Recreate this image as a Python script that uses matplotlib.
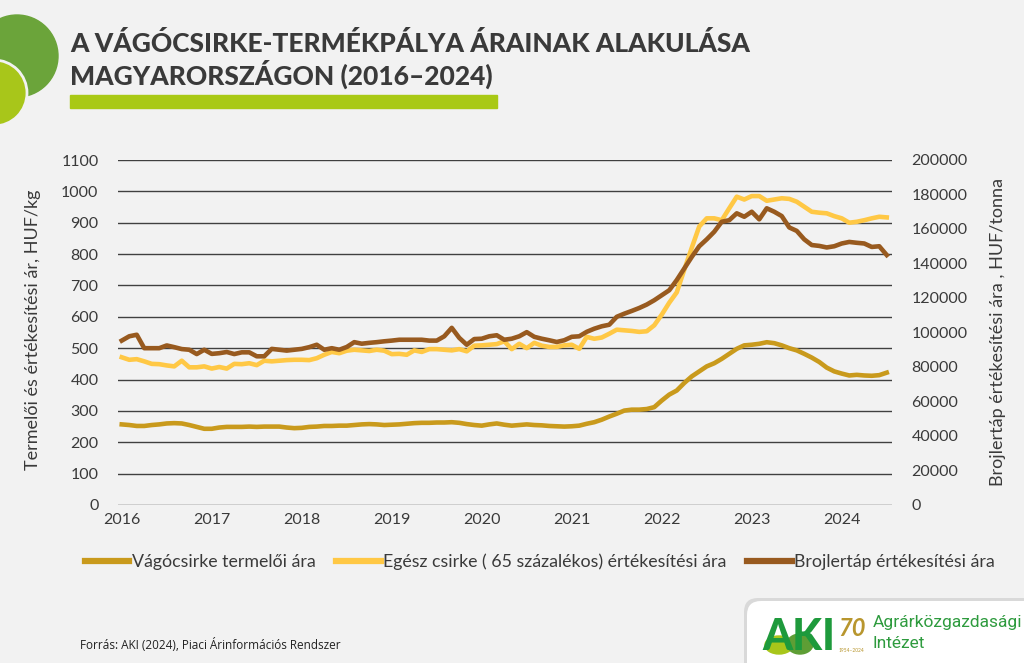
import numpy as np
import matplotlib.pyplot as plt
from matplotlib.patches import Circle, Rectangle, FancyBboxPatch, Ellipse
from matplotlib.lines import Line2D

plt.rcParams['font.family'] = ['Lato', 'DejaVu Sans']

# ---- data: monthly, Jan 2016 .. Jul 2024 ----
years = ['2016', '2017', '2018', '2019', '2020', '2021', '2022', '2023', '2024']

# Vágócsirke termelői ára, HUF/kg
termeloi = [257, 255, 252, 252, 255, 257, 260, 261, 260, 255,
            249, 243, 243, 247, 249, 249, 249, 250, 249, 250,
            250, 250, 247, 245, 246, 249, 250, 252, 252, 253,
            253, 255, 257, 258, 257, 255, 256, 257, 259, 261,
            262, 262, 263, 263, 264, 262, 258, 255, 253, 257,
            260, 256, 253, 255, 257, 255, 254, 252, 251, 250,
            251, 253, 259, 264, 272, 282, 291, 301, 304, 304,
            306, 312, 333, 352, 365, 389, 410, 426, 442, 452,
            466, 482, 498, 509, 511, 514, 519, 516, 509, 500,
            493, 482, 470, 456, 438, 426, 419, 413, 415, 413,
            412, 414, 422]

# Egész csirke (65 százalékos) értékesítési ára, HUF/kg
egesz = [471, 463, 465, 458, 450, 449, 445, 442, 460, 439,
         439, 442, 435, 440, 435, 450, 449, 452, 446, 460,
         458, 460, 462, 463, 463, 462, 468, 479, 488, 484,
         492, 495, 493, 491, 495, 492, 481, 482, 479, 493,
         488, 497, 497, 495, 493, 497, 490, 508, 509, 511,
         513, 522, 497, 514, 500, 517, 508, 504, 504, 509,
         511, 498, 536, 530, 534, 546, 559, 557, 555, 552,
         554, 573, 607, 645, 678, 750, 820, 888, 914, 914,
         908, 946, 983, 974, 985, 985, 970, 974, 978, 976,
         967, 951, 935, 932, 930, 921, 914, 900, 903, 908,
         914, 919, 917]

# Brojlertáp értékesítési ára, HUF/tonna
brojlertap = [95300, 97800, 98700, 90900, 90900, 90900, 92500, 91500, 90400, 90000,
              87500, 90000, 87600, 88000, 88700, 87500, 88500, 88500, 86200, 86200,
              90500, 90000, 89500, 90000, 90500, 91500, 92900, 90000, 90900, 90000,
              91600, 94400, 93500, 94000, 94400, 94900, 95300, 95800, 95800, 95800,
              95800, 95300, 95300, 97800, 102700, 96900, 92900, 96200, 96400, 97800,
              98400, 95800, 96400, 97800, 100200, 97500, 96400, 95500, 94500, 95500,
              97500, 97800, 100400, 102200, 103600, 104500, 109100, 110900, 112500, 114200,
              116200, 118700, 121600, 124500, 130400, 137100, 143800, 150000, 154000, 158400,
              164200, 165100, 169100, 167100, 170000, 165600, 172000, 170000, 167500, 160900,
              158900, 154000, 150700, 150200, 149300, 150000, 151600, 152500, 152000, 151600,
              149600, 150000, 144900]

labels = ['Vágócsirke termelői ára',
          'Egész csirke ( 65 százalékos) értékesítési ára',
          'Brojlertáp értékesítési ára']
colors = ['#C99A1C', '#FFC845', '#985A1F']

months = np.arange(len(termeloi))

BG = '#F2F2F2'
TXT = '#3A3A3A'
W, H = 1024, 663

fig = plt.figure(figsize=(W / 100, H / 100), dpi=100, facecolor=BG)

# decoration layer in pixel coordinates
deco = fig.add_axes([0, 0, 1, 1])
deco.set_xlim(0, W); deco.set_ylim(H, 0)
deco.axis('off')

deco.add_patch(Circle((17, 56), 41, color='#6BA43A'))
deco.add_patch(Circle((-6, 93), 33, fc='#A8C61A', ec=BG, lw=2))
deco.add_patch(Rectangle((70, 95), 427, 13, color='#A9C915'))

fig.text(70 / W, 1 - 44 / H, 'A VÁGÓCSIRKE-TERMÉKPÁLYA ÁRAINAK ALAKULÁSA',
         fontsize=19, fontweight='black', color=TXT, va='center')
fig.text(70 / W, 1 - 74 / H, 'MAGYARORSZÁGON (2016–2024)',
         fontsize=19, fontweight='black', color=TXT, va='center')

# main axes
ax = fig.add_axes([118 / W, 1 - 505 / H, 774 / W, 345 / H])
ax.set_facecolor('none')
ax2 = ax.twinx()

l1, = ax.plot(months, termeloi, color=colors[0], lw=3.3, solid_joinstyle='round')
l2, = ax.plot(months, egesz, color=colors[1], lw=3.3, solid_joinstyle='round')
l3, = ax2.plot(months, brojlertap, color=colors[2], lw=3.3, solid_joinstyle='round')

ax.set_xlim(-0.5, 102.7)
ax.set_ylim(0, 1100)
ax2.set_ylim(0, 200000)
ax.set_yticks(np.arange(0, 1101, 100))
ax2.set_yticks(np.arange(0, 200001, 20000))
ax.set_xticks(np.arange(0, 97, 12))
ax.set_xticklabels(years)
ax.yaxis.grid(True, color='#404040', lw=1.0)
ax.set_axisbelow(True)

for a in (ax, ax2):
    for s in a.spines.values():
        s.set_visible(False)
    a.tick_params(length=0, labelsize=11.5, labelcolor=TXT)
ax.tick_params(axis='y', pad=14)
ax2.tick_params(axis='y', pad=14)
ax.tick_params(axis='x', pad=6)

fig.text(33 / W, 1 - 330 / H, 'Termelői és értékesítési ár, HUF/kg',
         rotation=90, fontsize=13, color=TXT, ha='center', va='center')
fig.text(998 / W, 1 - 332 / H, 'Brojlertáp értékesítési ára , HUF/tonna',
         rotation=90, fontsize=13, color=TXT, ha='center', va='center')

handles = [Line2D([], [], color=c, lw=4.5) for c in colors]
fig.legend(handles, labels, loc='center', bbox_to_anchor=(540 / W, 1 - 562 / H),
           ncol=3, frameon=False, fontsize=12.8, handlelength=2.5,
           handletextpad=0.15, columnspacing=1.15, labelcolor=TXT)

fig.text(80 / W, 1 - 645 / H, 'Forrás: AKI (2024), Piaci Árinformációs Rendszer',
         fontsize=8.5, color='#222222', va='center', family='Open Sans')

# logo box
deco.add_patch(FancyBboxPatch((744, 598), 300, 80, boxstyle='round,pad=0,rounding_size=14',
                              fc='#D9D9D9', ec='none'))
deco.add_patch(FancyBboxPatch((747, 601), 300, 80, boxstyle='round,pad=0,rounding_size=14',
                              fc='white', ec='none'))
deco.add_patch(Ellipse((779, 645), 28, 18, color='#A8C61A'))
deco.add_patch(Ellipse((800, 644), 26, 20, color='#5E9E35'))
deco.text(762, 650, 'AKI', fontsize=31, fontweight='black', color='#1E9A3C', va='baseline')
deco.text(838, 636, '70', fontsize=17, fontweight='bold', style='italic', color='#B8962E',
          va='baseline')
deco.text(839, 650, '1954–2024', fontsize=3.5, color='#B8962E', va='center')
deco.text(873, 623, 'Agrárközgazdasági', fontsize=12.5, color='#2E9B3E', va='center',
          family='Roboto')
deco.text(873, 643, 'Intézet', fontsize=12.5, color='#2E9B3E', va='center', family='Roboto')

fig.savefig('out.png', dpi=100, facecolor=BG)
